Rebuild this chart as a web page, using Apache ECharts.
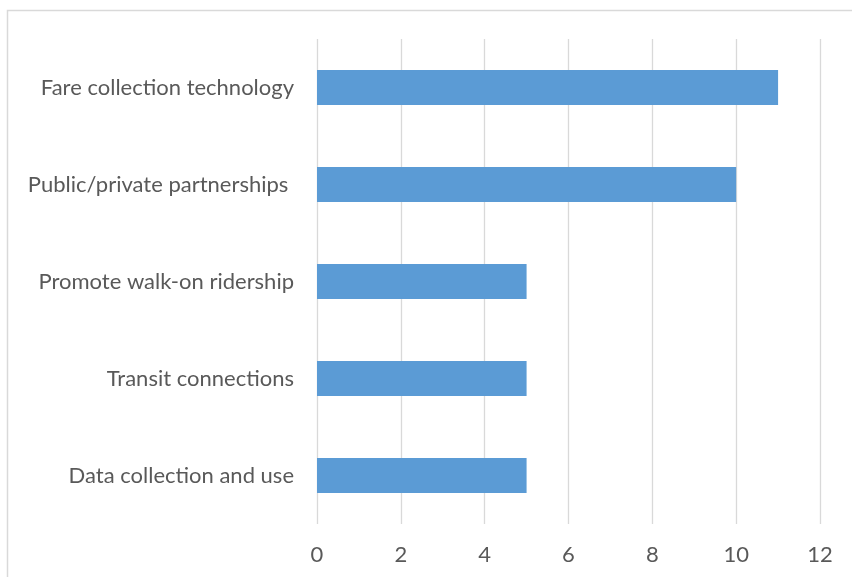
<!DOCTYPE html>
<html>
<head>
<meta charset="utf-8">
<style>html,body{margin:0;padding:0;background:#fff;}#c{width:852px;height:577px;}</style>
<script src="https://cdn.jsdelivr.net/npm/echarts@6/dist/echarts.min.js"></script>
</head>
<body>
<div id="c"></div>
<script>
var categories = ["Data collection and use", "Transit connections", "Promote walk-on ridership", "Public/private partnerships ", "Fare collection technology"];
var values = [5, 5, 5, 10, 11];
var xTicks = [0, 2, 4, 6, 8, 10, 12];

var chart = echarts.init(document.getElementById('c'), null, {renderer: 'canvas'});
var font = 'Lato, "Liberation Sans", sans-serif';
chart.setOption({
  animation: false,
  backgroundColor: '#ffffff',
  graphic: [{
    type: 'rect', silent: true,
    shape: {x: 7.5, y: 10.5, width: 900, height: 700},
    style: {fill: 'none', stroke: '#d9d9d9', lineWidth: 1.5}
  }],
  grid: {left: 317, right: 32, top: 39, bottom: 53, containLabel: false},
  xAxis: {
    type: 'value', min: xTicks[0], max: xTicks[xTicks.length - 1], interval: 2,
    axisLine: {show: false}, axisTick: {show: false},
    splitLine: {show: true, lineStyle: {color: '#d9d9d9', width: 1.3}},
    axisLabel: {color: '#595959', fontSize: 22, fontFamily: font, margin: 20}
  },
  yAxis: {
    type: 'category', data: categories,
    axisLine: {show: false}, axisTick: {show: false},
    splitLine: {show: false},
    axisLabel: {color: '#595959', fontSize: 22, fontFamily: font, margin: 23}
  },
  series: [{
    type: 'bar', data: values, barWidth: 35,
    itemStyle: {color: '#5b9bd5'}
  }]
});
</script>
</body>
</html>
